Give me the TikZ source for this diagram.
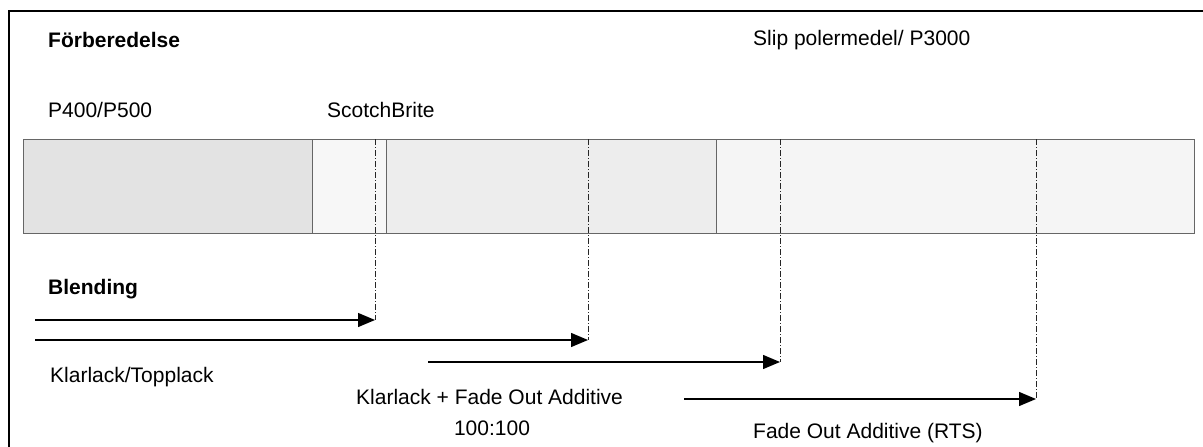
\documentclass[tikz,border=0pt]{standalone}
\usepackage{fontspec}
\setmainfont{Liberation Sans}
\usetikzlibrary{arrows.meta, positioning}

\begin{document}
\begin{tikzpicture}[
        x=1pt, y=-1pt,
        seg/.style={rectangle, draw=black!60, line width=0.8pt, anchor=north west, minimum height=94pt, inner sep=0pt},
        label/.style={anchor=west, inner sep=0pt, font=\fontsize{21}{25}\selectfont},
        title/.style={label, font=\fontsize{21}{25}\selectfont\bfseries},
        arrow/.style={-{Triangle[length=17pt, width=14pt]}, line width=1.3pt},
        markline/.style={line width=1pt, black!85, dash pattern=on 6pt off 2pt on 1pt off 2pt}
    ]
        \useasboundingbox (0,0) rectangle (1203,447);

        % Frame
        \draw[line width=2.5pt] (9,447) -- (9,11) -- (1203,11);

        % Headings and labels
        \node[title] (forb) at (48,40) {Förberedelse};
        \node[label] (slip) at (753,40) {Slip polermedel/ P3000};
        \node[label] (p400) at (48,110) {P400/P500};
        \node[label] (scotch) at (327,110) {ScotchBrite};
        \node[title] (blend) at (48,289) {Blending};

        % Bar segments
        \node[seg, fill=black!11, minimum width=289pt] (s1) at (23,139) {};
        \node[seg, fill=black!3, minimum width=74pt] (s2) at (312,139) {};
        \node[seg, fill=black!7, minimum width=330pt] (s3) at (386,139) {};
        \node[seg, fill=black!4, minimum width=478pt] (s4) at (716,139) {};

        % Marks on the bar
        \coordinate (m1) at (375,139);
        \coordinate (m2) at (588,139);
        \coordinate (m3) at (780,139);
        \coordinate (m4) at (1036,139);

        % Arrow ends
        \coordinate (a1s) at (35,320);
        \coordinate (a1e) at (375,320);
        \coordinate (a2s) at (35,340);
        \coordinate (a2e) at (588,340);
        \coordinate (a3s) at (428,362);
        \coordinate (a3e) at (780,362);
        \coordinate (a4s) at (684,399);
        \coordinate (a4e) at (1036,399);

        % Dash-dot lines from the bar
        \draw[markline] (m1) -- (a1e);
        \draw[markline] (m2) -- (a2e);
        \draw[markline] (m3) -- (a3e);
        \draw[markline] (m4) -- (a4e);

        % Arrows
        \draw[arrow] (a1s) -- (a1e);
        \draw[arrow] (a2s) -- (a2e);
        \draw[arrow] (a3s) -- (a3e);
        \draw[arrow] (a4s) -- (a4e);

        % Arrow labels
        \node[label] (klar) at (50,377) {Klarlack/Topplack};
        \node[label] (fade1) at (356,397) {Klarlack + Fade Out Additive};
        \node[label, anchor=center] (ratio) at (492,428) {100:100};
        \node[label] (fade2) at (753,433) {Fade Out Additive (RTS)};
    \end{tikzpicture}
\end{document}
